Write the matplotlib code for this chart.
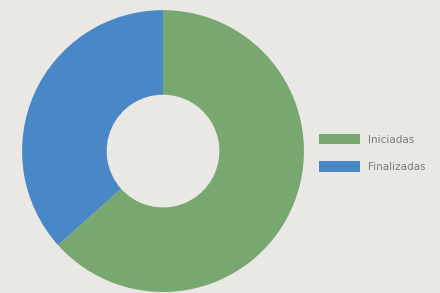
import numpy as np
import matplotlib
matplotlib.use('Agg')
import matplotlib.pyplot as plt
from matplotlib.patches import Patch

# Data
labels = ['Iniciadas', 'Finalizadas']
values = [64, 37]
colors = ['#78a86f', '#4a87c6']

fig = plt.figure(figsize=(4.4, 2.93), dpi=100)
fig.patch.set_facecolor('#e9e8e5')

# Donut
ax = fig.add_axes([0.05, 0.0034, 0.641, 0.962])
ax.pie(values, colors=colors, startangle=90, counterclock=False,
       radius=1, wedgeprops=dict(width=0.6, linewidth=0))
ax.set_xlim(-1, 1)
ax.set_ylim(-1, 1)
ax.set_aspect('equal')
ax.axis('off')

# Legend
handles = [Patch(facecolor=c, edgecolor='none') for c in colors]
fig.legend(handles, labels, loc='center left', bbox_to_anchor=(0.703, 0.478),
           frameon=False, fontsize=7.5, handlelength=4.0, handleheight=1.15,
           labelspacing=1.6, handletextpad=0.7, labelcolor='#7a7a7a')

fig.savefig('out.png', dpi=100, facecolor=fig.get_facecolor())
